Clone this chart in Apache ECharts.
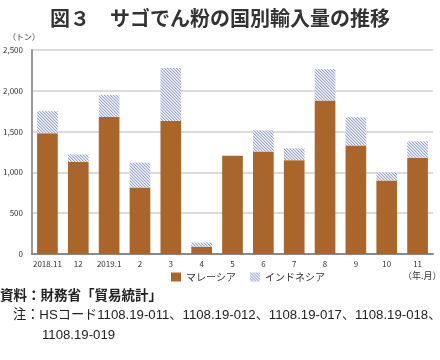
<!DOCTYPE html>
<html><head><meta charset="utf-8">
<script src="https://cdn.jsdelivr.net/npm/echarts@6/dist/echarts.min.js"></script>
<style>html,body{margin:0;padding:0;background:#fff}#c{width:440px;height:360px}</style>
</head><body><div id="c"></div>
<script>
const categories = ['2018.11','12','2019.1','2','3','4','5','6','7','8','9','10','11'];
const malaysia = [1480,1130,1680,815,1630,90,1205,1255,1150,1880,1330,900,1180];
const indonesia = [270,90,270,305,650,50,0,260,145,385,345,100,200];
const yTicks = [0,500,1000,1500,2000,2500];
const seriesNames = ['マレーシア','インドネシア'];

const FONT = '"Noto Sans CJK JP", "Noto Sans", sans-serif';
const NOTE_FONT = '"Liberation Sans", "Noto Sans CJK JP", sans-serif';

function hatch(){
  const c = document.createElement('canvas');
  c.width = 3; c.height = 3;
  const g = c.getContext('2d');
  g.fillStyle = '#f4f5fb'; g.fillRect(0,0,3,3);
  g.fillStyle = '#99a3d4';
  for (let i=0;i<3;i++){ g.fillRect(i,i,1,1); }
  g.fillStyle = '#d5daf0';
  for (let i=0;i<3;i++){ g.fillRect((i+1)%3,i,1,1); }
  return c;
}
const pat = {image: hatch(), repeat: 'repeat'};

const chart = echarts.init(document.getElementById('c'), null, {renderer:'canvas'});
chart.setOption({
  animation:false,
  textStyle:{fontFamily:FONT},
  title:{text:'図３　サゴでん粉の国別輸入量の推移', left:'center', top:3,
    textStyle:{fontSize:20, fontWeight:'bold', color:'#333', fontFamily:FONT}},
  grid:{left:32, right:7, top:50, bottom:106},
  legend:{data:seriesNames, top:267, left:166, itemWidth:10, itemHeight:9, itemGap:14,
    textStyle:{fontSize:10, color:'#333', fontFamily:FONT}, icon:'rect'},
  xAxis:{type:'category', data:categories,
    axisLine:{lineStyle:{color:'#8a8a8a', width:2}},
    axisTick:{show:false},
    axisLabel:{fontSize:8, color:'#333', margin:6, interval:0, fontFamily:FONT}},
  yAxis:{type:'value', min:0, max:2500, interval:500,
    axisLine:{show:true, lineStyle:{color:'#9a9a9a', width:2}},
    axisTick:{show:false},
    splitLine:{lineStyle:{color:'#cfcfcf', width:1.5}},
    axisLabel:{fontSize:8, color:'#333', margin:9, fontFamily:FONT,
      formatter:v=>yTicks.includes(v)?v.toLocaleString('en-US'):''}},
  series:[
    {name:seriesNames[0], type:'bar', stack:'t', data:malaysia, barWidth:'67%',
      itemStyle:{color:'#a9652a'}},
    {name:seriesNames[1], type:'bar', stack:'t', data:indonesia, barWidth:'67%',
      itemStyle:{color:pat}}
  ],
  graphic:[
    {type:'text', left:8, top:33, style:{text:'（トン）', fontSize:8, fill:'#333', fontFamily:FONT}},
    {type:'text', left:403, top:271, style:{text:'（年.月）', fontSize:9, fill:'#333', fontFamily:FONT}},
    {type:'text', left:0, top:288, style:{text:'資料：財務省「貿易統計」', fontSize:13.5, fontWeight:'bold', fill:'#222', fontFamily:FONT}},
    {type:'text', left:13, top:309, style:{text:'注：HSコード1108.19-011、1108.19-012、1108.19-017、1108.19-018、', fontSize:13.2, fill:'#222', fontFamily:NOTE_FONT}},
    {type:'text', left:42, top:329, style:{text:'1108.19-019', fontSize:13.2, fill:'#222', fontFamily:NOTE_FONT}}
  ]
});
</script></body></html>
